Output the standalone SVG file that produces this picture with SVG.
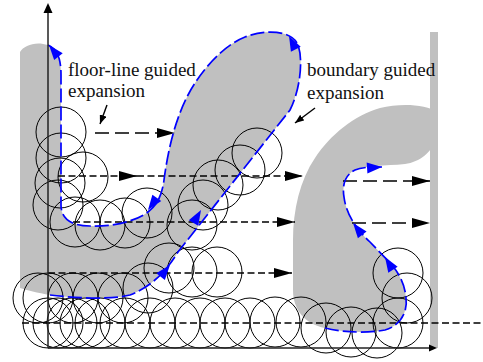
<svg xmlns="http://www.w3.org/2000/svg" xmlns:xlink="http://www.w3.org/1999/xlink" width="483" height="362" viewBox="0 0 483 362">
<style>
.gray{fill:#c0c0c0;stroke:none}
.circ{fill:none;stroke:#000;stroke-width:1}
.dl{fill:none;stroke:#000;stroke-width:1.4}
.long{stroke-dasharray:14 6}
.short{stroke-dasharray:7 3.5}
.blue{fill:none;stroke:#0000ff;stroke-width:1.7;stroke-dasharray:14 4}
.ax{fill:none;stroke:#222;stroke-width:1.5}
.lbl{font-family:"Liberation Serif","Times New Roman",serif;font-size:19px;fill:#111}
</style>
<defs>
<marker id="ah" markerUnits="userSpaceOnUse" markerWidth="18" markerHeight="10" refX="18" refY="5" orient="auto">
<path d="M0,0 L18,5 L0,10 z" fill="#000"/>
</marker>
<marker id="sh" markerUnits="userSpaceOnUse" markerWidth="9" markerHeight="7" refX="9" refY="3.5" orient="auto">
<path d="M0,0 L9,3.5 L0,7 z" fill="#000"/>
</marker>
<polygon id="barrow" points="0,0 -15,-5.5 -15,5.5" fill="#0000ff"/>
</defs>

<g id="regions">
<path class="gray" d="M 20,52 C 24,45 36,41 48,45 C 57,49 61,58 61,75 L 61,205 C 61,218 70,226 90,226 C 110,227 135,222 148,212 C 158,204 162,195 164,180 C 168,150 175,120 188,95 C 200,72 222,46 245,37 C 265,29 292,30 298,45 C 303,58 301,88 290,110 L 178,252 C 168,268 155,285 130,295 C 110,300 75,298 50,295 C 38,293 26,290 20,288 Z"/>
<path class="gray" d="M 325,328 C 345,333 370,333 385,330 C 400,326 408,312 406,298 C 405,285 400,275 392,265 L 370,242 C 355,228 346,213 344,197 C 342,185 345,175 355,170 C 365,165 385,166 405,164 C 420,162 432,152 435,140 L 438,130 L 438,112 C 425,104 400,103 380,108 C 355,115 330,135 315,158 C 300,180 293,210 293,240 L 293,290 C 293,310 305,324 325,328 Z"/>
<rect class="gray" x="430" y="32" width="8" height="316"/>
</g>

<g id="circles">
<circle class="circ" cx="61" cy="132" r="25"/>
<circle class="circ" cx="61" cy="158" r="25"/>
<circle class="circ" cx="60" cy="183" r="25"/>
<circle class="circ" cx="58" cy="205" r="25"/>
<circle class="circ" cx="83" cy="177" r="25"/>
<circle class="circ" cx="75" cy="222" r="25"/>
<circle class="circ" cx="100" cy="225" r="25"/>
<circle class="circ" cx="125" cy="223" r="25"/>
<circle class="circ" cx="147" cy="213" r="25"/>
<circle class="circ" cx="257" cy="153" r="25"/>
<circle class="circ" cx="240" cy="170" r="25"/>
<circle class="circ" cx="218" cy="185" r="25"/>
<circle class="circ" cx="203" cy="205" r="25"/>
<circle class="circ" cx="192" cy="225" r="25"/>
<circle class="circ" cx="169" cy="268" r="25"/>
<circle class="circ" cx="192" cy="272" r="25"/>
<circle class="circ" cx="217" cy="272" r="25"/>
<circle class="circ" cx="38" cy="298" r="25"/>
<circle class="circ" cx="48" cy="298" r="25"/>
<circle class="circ" cx="73" cy="298" r="25"/>
<circle class="circ" cx="98" cy="298" r="25"/>
<circle class="circ" cx="123" cy="298" r="25"/>
<circle class="circ" cx="148" cy="288" r="25"/>
<circle class="circ" cx="48" cy="323" r="25"/>
<circle class="circ" cx="58" cy="323" r="25"/>
<circle class="circ" cx="72" cy="323" r="25"/>
<circle class="circ" cx="85" cy="323" r="25"/>
<circle class="circ" cx="100" cy="323" r="25"/>
<circle class="circ" cx="125" cy="323" r="25"/>
<circle class="circ" cx="150" cy="323" r="25"/>
<circle class="circ" cx="175" cy="323" r="25"/>
<circle class="circ" cx="200" cy="323" r="25"/>
<circle class="circ" cx="225" cy="323" r="25"/>
<circle class="circ" cx="250" cy="323" r="25"/>
<circle class="circ" cx="275" cy="322" r="25"/>
<circle class="circ" cx="301" cy="322" r="25"/>
<circle class="circ" cx="326" cy="328" r="25"/>
<circle class="circ" cx="351" cy="332" r="25"/>
<circle class="circ" cx="377" cy="333" r="25"/>
<circle class="circ" cx="398" cy="323" r="25"/>
<circle class="circ" cx="407" cy="298" r="25"/>
<circle class="circ" cx="398" cy="273" r="25"/>
</g>

<g id="connectors">
<line class="dl long" x1="95" y1="133" x2="175" y2="133" marker-end="url(#ah)"/>
<line class="dl short" x1="58" y1="176" x2="137" y2="176" marker-end="url(#ah)"/>
<line class="dl short" x1="137" y1="176" x2="303" y2="176" marker-end="url(#ah)"/>
<line class="dl long" x1="343" y1="181" x2="430" y2="181" marker-end="url(#ah)"/>
<line class="dl short" x1="73" y1="222" x2="295" y2="222" marker-end="url(#ah)"/>
<line class="dl long" x1="352" y1="223" x2="430" y2="223" marker-end="url(#ah)"/>
<line class="dl short" x1="48" y1="273" x2="292" y2="273" marker-end="url(#ah)"/>
<line class="dl short" x1="22" y1="323" x2="483" y2="323"/>
<line class="dl" x1="107" y1="105" x2="100" y2="124" stroke-width="1.1" marker-end="url(#sh)"/>
<line class="dl" x1="315" y1="108" x2="295" y2="123" stroke-width="1.1" marker-end="url(#sh)"/>
</g>

<g id="contours">
<path class="blue" d="M 50,295 C 75,298 110,300 130,295 C 155,285 168,268 178,252 L 290,110 C 301,88 303,58 298,45 C 292,30 265,29 245,37 C 222,46 200,72 188,95 C 175,120 168,150 164,180 C 162,195 158,204 148,212 C 135,222 110,227 90,226 C 70,226 61,218 61,205 L 61,75 C 61,58 57,49 48,45"/>
<path class="blue" d="M 325,328 C 345,333 370,333 385,330 C 400,326 408,312 406,298 C 405,285 400,275 392,265 L 370,242 C 355,228 346,213 344,197 C 342,185 345,175 355,170 C 362,167 372,167 382,167"/>
<use xlink:href="#barrow" transform="translate(49,45) rotate(-129)"/>
<use xlink:href="#barrow" transform="translate(148,210) rotate(126)"/>
<use xlink:href="#barrow" transform="translate(289,36) rotate(-117)"/>
<use xlink:href="#barrow" transform="translate(201,210) rotate(-60)"/>
<use xlink:href="#barrow" transform="translate(170,265) rotate(-51)"/>
<use xlink:href="#barrow" transform="translate(385,257) rotate(-122)"/>
<use xlink:href="#barrow" transform="translate(353,223) rotate(-128)"/>
<use xlink:href="#barrow" transform="translate(382,167) rotate(-4)"/>
</g>

<g id="axes">
<line class="ax" x1="48" y1="348" x2="48" y2="12"/>
<polygon points="48,3 43.5,13 52.5,13" fill="#000"/>
<line class="ax" x1="48" y1="348" x2="431" y2="348"/>
<polygon points="437,348 429,344.5 429,351.5" fill="#000"/>
</g>

<g id="labels">
<text class="lbl" x="68" y="76">floor-line guided</text>
<text class="lbl" x="68" y="97">expansion</text>
<text class="lbl" x="307" y="76">boundary guided</text>
<text class="lbl" x="307" y="99">expansion</text>
</g>
</svg>
